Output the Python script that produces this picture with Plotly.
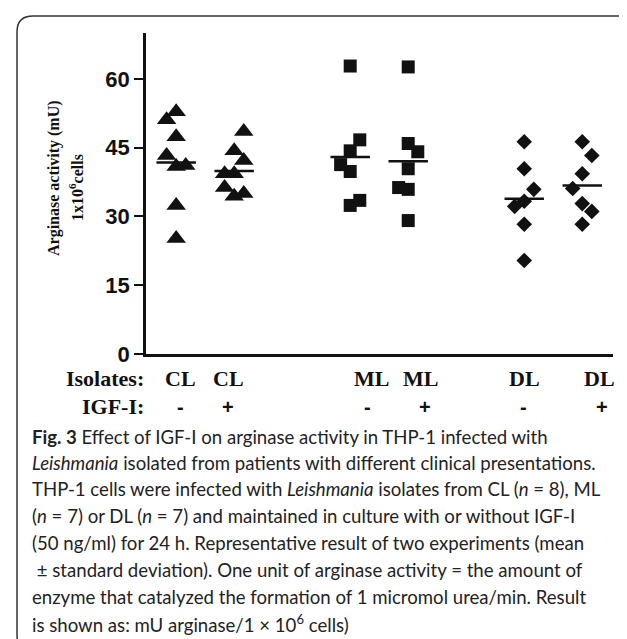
import numpy as np
import plotly.graph_objects as go

# ---------------- data ----------------
CL_minus = [51.1, 52.8, 47.4, 43.3, 40.9, 41.1, 32.4, 25.2]
CL_plus = [48.5, 44.3, 42.2, 39.3, 39.3, 36.3, 34.4, 35.0]
ML_minus = [62.8, 46.7, 44.3, 41.3, 39.8, 33.5, 32.4]
ML_plus = [62.6, 45.9, 44.1, 40.4, 36.3, 35.9, 29.1]
DL_minus = [46.3, 40.4, 35.9, 33.3, 32.2, 28.3, 20.4]
DL_plus = [46.3, 43.3, 39.3, 36.1, 32.8, 31.1, 28.3]

isolates = ["CL", "CL", "ML", "ML", "DL", "DL"]
igf = ["-", "+", "-", "+", "-", "+"]
y_ticks = [0, 15, 30, 45, 60]

# ---------------- layout / style settings ----------------
group_pos = [1, 2, 4, 5, 7, 8]           # column positions on the x scale
jitter_slots = [                          # side-by-side placement of overlapping points
    [-1, 0, 0, -1, 0, 1, 0, 0],
    [1, 0, 1, -1, 0, -1, 0, 1],
    [0, 1, 0, -1, 0, 1, 0],
    [0, 0, 1, 0, -1, 0, 0],
    [0, 0, 1, 0, -1, 0, 0],
    [0, 1, 0, -1, 0, 1, 0],
]
JIT = 0.165
symbols = ["triangle-up", "triangle-up", "square", "square", "diamond", "diamond"]
sizes = [17, 17, 13, 13, 12, 12]
iso_label_pos = [1.07, 1.90, 4.36, 5.22, 7.0, 8.29]
igf_label_pos = [1.07, 1.90, 4.29, 5.29, 6.98, 8.34]

W, H = 627, 639
L, R, T, B = 138, 22, 25, 293
PW, PH = W - L - R, H - T - B


def px_x(p):
    return (p - L) / PW


def px_y(p):
    return (H - B - p) / PH


series = [CL_minus, CL_plus, ML_minus, ML_plus, DL_minus, DL_plus]

fig = go.Figure()
for vals, pos, slots, sym, sz in zip(series, group_pos, jitter_slots, symbols, sizes):
    xs = [pos + s * JIT for s in slots]
    fig.add_trace(go.Scatter(
        x=xs, y=vals, mode="markers",
        marker=dict(symbol=sym, size=sz, color="#111111", line=dict(width=0)),
        showlegend=False, hoverinfo="y"))

# mean lines
mx, my = [], []
for vals, pos in zip(series, group_pos):
    m = float(np.mean(vals))
    mx += [pos - 0.34, pos + 0.34, None]
    my += [m, m, None]
fig.add_trace(go.Scatter(x=mx, y=my, mode="lines",
                         line=dict(color="#111111", width=2.5),
                         showlegend=False, hoverinfo="skip"))

ann = []
serif = "Liberation Serif, Times New Roman, serif"
sans = "Liberation Sans, Arial, sans-serif"
ROW1, ROW2 = 371, 399
for lab, xp in zip(isolates, iso_label_pos):
    ann.append(dict(x=xp, y=px_y(ROW1), xref="x", yref="paper", text=f"<b>{lab}</b>",
                    showarrow=False, font=dict(family=serif, size=22, color="#111"),
                    xanchor="center", yanchor="middle", borderpad=0))
for lab, xp in zip(igf, igf_label_pos):
    ann.append(dict(x=xp, y=px_y(ROW2), xref="x", yref="paper", text=f"<b>{lab}</b>",
                    showarrow=False, font=dict(family=sans, size=20, color="#111"),
                    xanchor="center", yanchor="middle", borderpad=0))
ann.append(dict(x=px_x(137), y=px_y(ROW1), xref="paper", yref="paper", text="<b>Isolates:</b>",
                showarrow=False, font=dict(family=serif, size=22, color="#111"),
                xanchor="right", yanchor="middle", borderpad=0))
ann.append(dict(x=px_x(137), y=px_y(ROW2), xref="paper", yref="paper", text="<b>IGF-I:</b>",
                showarrow=False, font=dict(family=serif, size=22, color="#111"),
                xanchor="right", yanchor="middle", borderpad=0))

# y axis title (two lines)
ann.append(dict(x=px_x(46), y=px_y(170), xref="paper", yref="paper",
                text="<b>Arginase activity (mU)</b>", textangle=-90, showarrow=False,
                font=dict(family=serif, size=16, color="#111"), xanchor="center", yanchor="middle"))
ann.append(dict(x=px_x(68), y=px_y(180), xref="paper", yref="paper",
                text="<b>1x10<sup>6</sup>cells</b>", textangle=-90, showarrow=False,
                font=dict(family=serif, size=16, color="#111"), xanchor="center", yanchor="middle"))

caption = [
    "<b>Fig. 3</b> Effect of IGF-I on arginase activity in THP-1 infected with",
    "<i>Leishmania</i> isolated from patients with different clinical presentations.",
    "THP-1 cells were infected with <i>Leishmania</i> isolates from CL (<i>n</i> = 8), ML",
    "(<i>n</i> = 7) or DL (<i>n</i> = 7) and maintained in culture with or without IGF-I",
    "(50 ng/ml) for 24 h. Representative result of two experiments (mean",
    " ± standard deviation). One unit of arginase activity = the amount of",
    "enzyme that catalyzed the formation of 1 micromol urea/min. Result",
    "is shown as: mU arginase/1 × 10<sup>6</sup> cells)",
]
cap_y = [429, 455, 481, 508, 535, 562, 589, 615]
for line, yy in zip(caption, cap_y):
    ann.append(dict(x=px_x(23), y=px_y(yy), xref="paper", yref="paper", text=line,
                    showarrow=False, font=dict(family="Lato, Noto Sans, sans-serif", size=18.6, color="#222"),
                    xanchor="left", yanchor="middle", align="left", borderpad=0))

# rounded frame
x0, y0, x1, y1, rr = 9, 8, 641, 643, 16
pts = lambda a, b: f"{px_x(a):.5f},{px_y(b):.5f}"
path = (f"M{pts(x0 + rr, y0)} L{pts(x1 - rr, y0)} Q{pts(x1, y0)} {pts(x1, y0 + rr)} "
        f"L{pts(x1, y1 - rr)} Q{pts(x1, y1)} {pts(x1 - rr, y1)} L{pts(x0 + rr, y1)} "
        f"Q{pts(x0, y1)} {pts(x0, y1 - rr)} L{pts(x0, y0 + rr)} Q{pts(x0, y0)} {pts(x0 + rr, y0)} Z")
shapes = [dict(type="path", xref="paper", yref="paper", path=path,
               line=dict(color="#333333", width=1.5), layer="below")]

fig.update_layout(
    width=W, height=H,
    margin=dict(l=L, r=R, t=T, b=B),
    paper_bgcolor="white", plot_bgcolor="white",
    xaxis=dict(range=[0.48, 8.53], showline=True, linecolor="#111", linewidth=2.5,
               showticklabels=False, ticks="", showgrid=False, zeroline=False, fixedrange=True),
    yaxis=dict(range=[0, 70], showline=True, linecolor="#111", linewidth=2.5,
               tickvals=y_ticks, ticktext=[f"<b>{v}</b>" for v in y_ticks],
               ticks="outside", ticklen=9, tickwidth=2, tickcolor="#111",
               tickfont=dict(family=sans, size=22, color="#111"),
               showgrid=False, zeroline=False, fixedrange=True),
    annotations=ann, shapes=shapes,
)

fig.write_html("out.html")
